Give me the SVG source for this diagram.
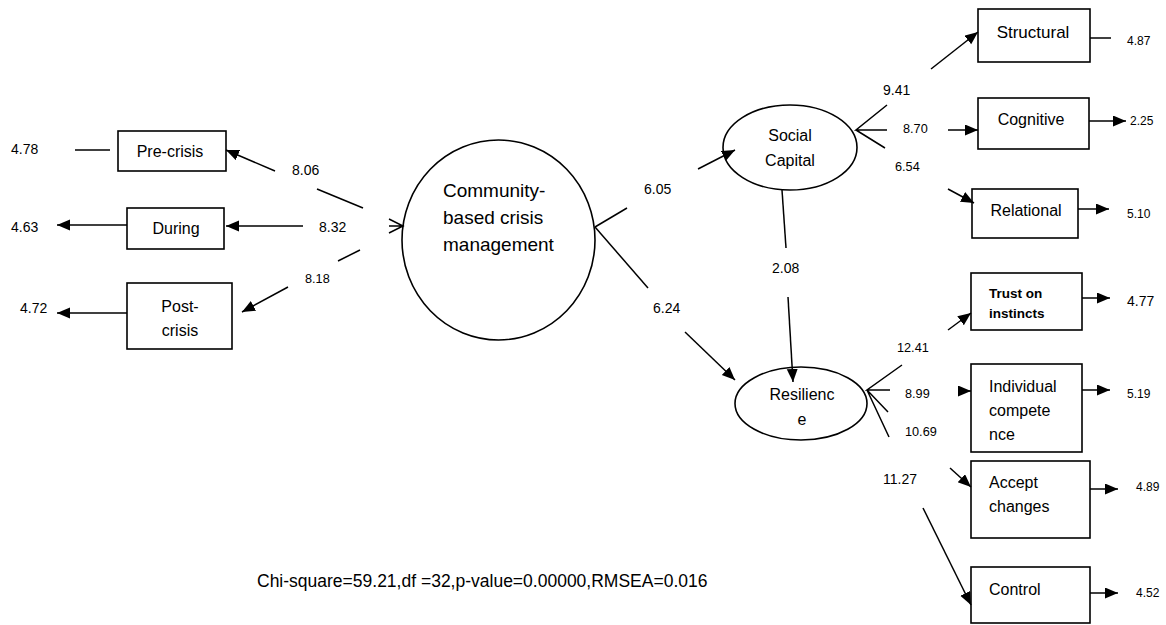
<svg xmlns="http://www.w3.org/2000/svg" width="1166" height="625" viewBox="0 0 1166 625">
<defs>
<marker id="ah" markerUnits="userSpaceOnUse" markerWidth="14" markerHeight="12" refX="13" refY="5.5" orient="auto">
<path d="M0,0 L13,5.5 L0,11 z" fill="#000"/>
</marker>
<style>
.ln{stroke:#000;stroke-width:1.5;fill:none}
.ar{stroke:#000;stroke-width:1.5;fill:none;marker-end:url(#ah)}
.bx{fill:#fff;stroke:#000;stroke-width:1.6}
text{font-family:"Liberation Sans",Arial,sans-serif;fill:#000}
.t16{font-size:16px}
.n14{font-size:14px}
.n13{font-size:12.7px}
.n12{font-size:12px}
.c{text-anchor:middle}
</style>
</defs>
<rect width="1166" height="625" fill="#fff"/>
<g id="pre-crisis"><rect class="bx" x="118" y="131" width="108" height="40"/><text class="t16 c" x="170" y="157">Pre-crisis</text></g>
<g id="during"><rect class="bx" x="127" y="208" width="97" height="41"/><text class="t16 c" x="176" y="234">During</text></g>
<g id="post-crisis"><rect class="bx" x="127" y="283" width="105" height="66"/><text class="t16 c" x="180" y="312">Post-</text><text class="t16 c" x="180" y="336">crisis</text></g>
<g id="cbcm"><ellipse class="bx" cx="498.5" cy="240" rx="96.5" ry="100"/><text x="443" y="197" style="font-size:19px">Community-</text><text x="443" y="224" style="font-size:19px">based crisis</text><text x="443" y="251" style="font-size:19px">management</text></g>
<g id="social-capital"><ellipse class="bx" cx="790" cy="147.5" rx="67" ry="42.5"/><text class="t16 c" x="790" y="141">Social</text><text class="t16 c" x="790" y="166">Capital</text></g>
<g id="resilience"><ellipse class="bx" cx="801" cy="403.5" rx="66" ry="36.5"/><text class="t16 c" x="802" y="400">Resilienc</text><text class="t16 c" x="802" y="425">e</text></g>
<g id="structural"><rect class="bx" x="978" y="9" width="112" height="53"/><text class="c" style="font-size:17px" x="1033" y="38">Structural</text></g>
<g id="cognitive"><rect class="bx" x="978" y="98" width="111" height="51"/><text class="t16 c" x="1031" y="125">Cognitive</text></g>
<g id="relational"><rect class="bx" x="972" y="189" width="106" height="49"/><text class="t16 c" x="1026" y="216">Relational</text></g>
<g id="trust"><rect class="bx" x="971" y="273" width="111" height="57"/><text x="989" y="298" style="font-size:13.5px;font-weight:bold">Trust on</text><text x="989" y="318" style="font-size:13.5px;font-weight:bold">instincts</text></g>
<g id="individual"><rect class="bx" x="971" y="364" width="111" height="88"/><text class="t16" x="989" y="392">Individual</text><text class="t16" x="989" y="416">compete</text><text class="t16" x="989" y="440">nce</text></g>
<g id="accept"><rect class="bx" x="971" y="461" width="119" height="77"/><text class="t16" x="989" y="488">Accept</text><text class="t16" x="989" y="512">changes</text></g>
<g id="control"><rect class="bx" x="971" y="567" width="119" height="56"/><text class="t16" x="989" y="595">Control</text></g>
<g id="connectors">
<line class="ln" x1="75" y1="150" x2="110" y2="150"/>
<line class="ar" x1="275" y1="171" x2="226" y2="150"/>
<line class="ln" x1="317" y1="189" x2="363" y2="208"/>
<line class="ar" x1="303" y1="226" x2="226" y2="226"/>
<line class="ar" x1="127" y1="225" x2="57" y2="225"/>
<line class="ln" x1="338" y1="261" x2="360" y2="250"/>
<line class="ar" x1="288" y1="287" x2="242" y2="312"/>
<line class="ar" x1="127" y1="313" x2="57" y2="313"/>
<path class="ln" d="M389,219 L403,226 L389,233 M389,226 L403,226"/>
<line class="ln" x1="595" y1="227" x2="627" y2="208"/>
<line class="ar" x1="698" y1="169" x2="735" y2="150"/>
<line class="ln" x1="595" y1="227" x2="648" y2="288"/>
<line class="ar" x1="685" y1="332" x2="735" y2="380"/>
<line class="ln" x1="782" y1="190" x2="786" y2="248"/>
<line class="ar" x1="788" y1="297" x2="793" y2="382"/>
<path class="ln" d="M887,105 L856,130 L887,130 M856,130 L885,148"/>
<line class="ar" x1="931" y1="69" x2="978" y2="32"/>
<line class="ar" x1="948" y1="130" x2="978" y2="130"/>
<line class="ar" x1="948" y1="189" x2="974" y2="203"/>
<line class="ln" x1="1090" y1="38" x2="1111" y2="38"/>
<line class="ar" x1="1089" y1="121" x2="1126" y2="121"/>
<line class="ar" x1="1078" y1="209" x2="1109" y2="209"/>
<line class="ar" x1="948" y1="330" x2="971" y2="313"/>
<path class="ln" d="M902,365 L867,390 L890,390 M867,390 L888,412 M867,390 L889,437"/>
<line class="ar" x1="958" y1="391" x2="971" y2="391"/>
<line class="ar" x1="1082" y1="298" x2="1110" y2="298"/>
<line class="ar" x1="1082" y1="390" x2="1110" y2="390"/>
<line class="ar" x1="950" y1="468" x2="971" y2="487"/>
<line class="ar" x1="923" y1="508" x2="971" y2="605"/>
<line class="ar" x1="1090" y1="489" x2="1118" y2="489"/>
<line class="ar" x1="1090" y1="593" x2="1118" y2="593"/>
</g>
<g id="labels">
<text class="n14" x="11" y="154">4.78</text>
<text class="n14" x="11" y="232">4.63</text>
<text class="n14" x="20" y="313">4.72</text>
<text class="n14" x="292" y="175">8.06</text>
<text class="n14" x="319" y="232">8.32</text>
<text class="n13" x="305" y="283">8.18</text>
<text class="n14" x="644" y="194">6.05</text>
<text class="n14" x="653" y="313">6.24</text>
<text class="n14" x="772" y="273">2.08</text>
<text class="n14" x="883" y="95">9.41</text>
<text class="n13" x="903" y="133">8.70</text>
<text class="n13" x="895" y="171">6.54</text>
<text class="n12" x="1127" y="45">4.87</text>
<text class="n12" x="1130" y="125">2.25</text>
<text class="n12" x="1127" y="218">5.10</text>
<text class="n14" x="1127" y="306">4.77</text>
<text class="n13" x="897" y="352">12.41</text>
<text class="n13" x="905" y="398">8.99</text>
<text class="n13" x="905" y="436">10.69</text>
<text class="n12" x="1127" y="398">5.19</text>
<text class="n14" x="883" y="484">11.27</text>
<text class="n12" x="1136" y="491">4.89</text>
<text class="n12" x="1136" y="597">4.52</text>
<text x="257" y="587" style="font-size:17.5px">Chi-square=59.21,df =32,p-value=0.00000,RMSEA=0.016</text>
</g>
</svg>
